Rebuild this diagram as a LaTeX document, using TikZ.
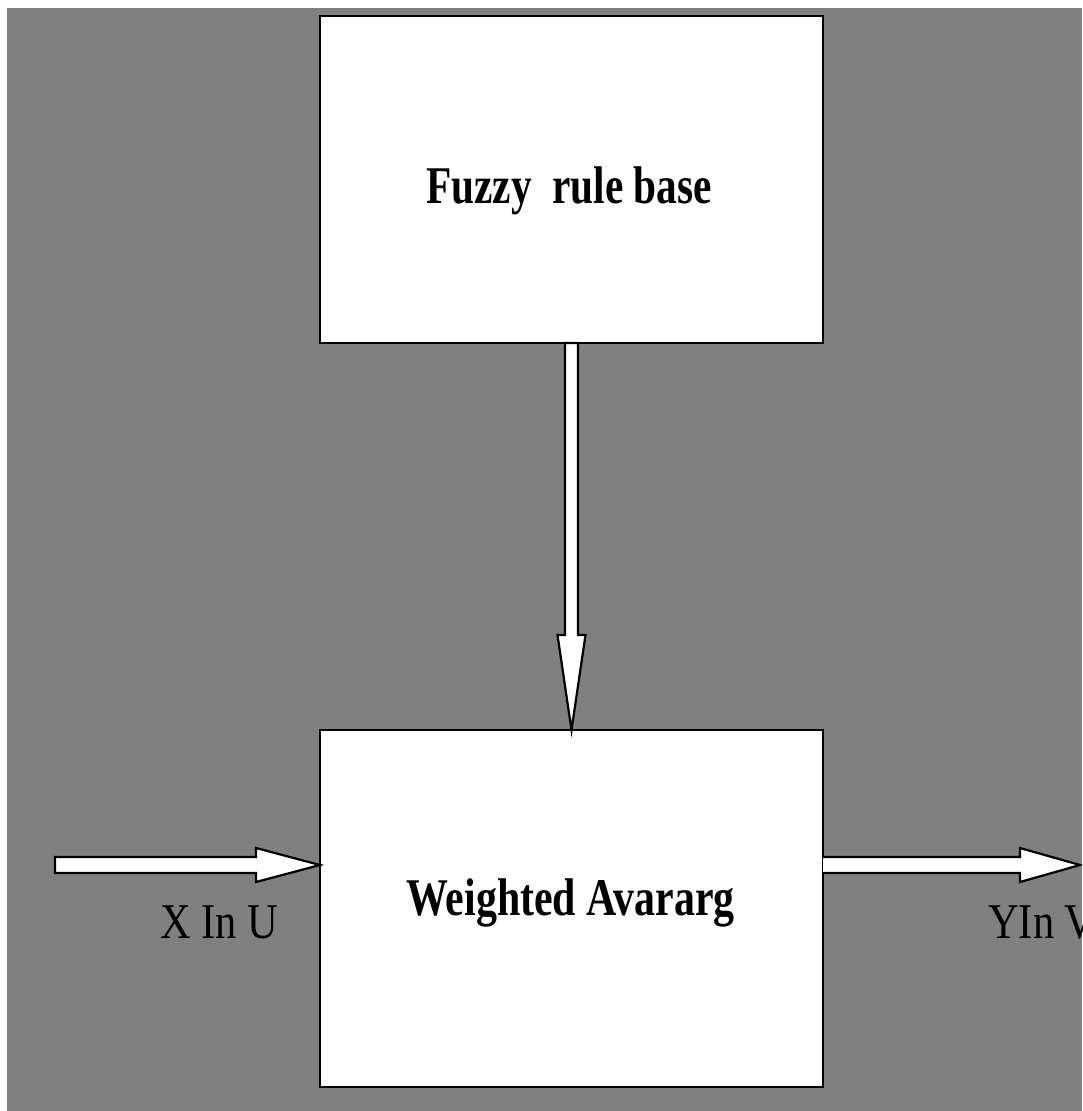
\documentclass[tikz,border=0pt]{standalone}
\usepackage{fontspec}
\setmainfont{Liberation Serif}
\usetikzlibrary{calc}
\definecolor{bggray}{RGB}{128,128,128}
\tikzset{
  box/.style={draw=black, line width=2pt, fill=white, inner sep=0pt, outer sep=0pt,
              minimum width=503pt, minimum height=327pt},
  boxtext/.style={anchor=base, inner sep=0pt, font=\fontsize{53}{60}\selectfont\bfseries},
  portlabel/.style={anchor=base west, inner sep=0pt, font=\fontsize{50}{60}\selectfont},
  blockarrow/.style={draw=black, line width=2.2pt, fill=white, line join=miter}
}
\begin{document}
\begin{tikzpicture}[x=1pt,y=-1pt]
\useasboundingbox (0,0) rectangle (1082,1111);
\clip (0,0) rectangle (1082,1111);
\fill[white] (0,0) rectangle (1082,1111);
\fill[bggray] (7,8) rectangle (1082,1111);

\node[box] (rb) at (571.5,179.5) {};
\node[box, minimum height=357pt] (wa) at (571.5,908.5) {};

\node[boxtext] (rbt) at (569,203) {\scalebox{0.78}[1]{Fuzzy\ \ rule base}};
\node[boxtext] (wat) at (570.5,915) {\scalebox{0.79}[1]{Weighted Avararg}};

\coordinate (xin) at (55,865);
\coordinate (yout) at (1080,865);

% vertical block arrow: rule base -> weighted average
\draw[blockarrow]
  ($(rb.south)+(-6.5,0)$) -- ($(wa.north)+(-6.5,-95)$) -- ($(wa.north)+(-14,-95)$)
  -- (wa.north) -- ($(wa.north)+(14,-95)$) -- ($(wa.north)+(6.5,-95)$)
  -- ($(rb.south)+(6.5,0)$) -- cycle;

% input block arrow
\coordinate (win) at (wa.west |- xin);
\draw[blockarrow]
  ($(xin)+(0,-8)$) -- ($(win)+(-64,-8)$) -- ($(win)+(-64,-17)$) -- (win)
  -- ($(win)+(-64,17)$) -- ($(win)+(-64,8)$) -- ($(xin)+(0,8)$) -- cycle;

% output block arrow
\coordinate (wout) at (wa.east |- yout);
\draw[blockarrow]
  ($(wout)+(0,-8)$) -- ($(yout)+(-60,-8)$) -- ($(yout)+(-60,-17)$) -- (yout)
  -- ($(yout)+(-60,17)$) -- ($(yout)+(-60,8)$) -- ($(wout)+(0,8)$);

\node[portlabel] (xl) at (160,938) {\scalebox{0.85}[1]{X In U}};
\node[portlabel] (yl) at (988,938) {\scalebox{0.85}[1]{YIn V}};
\end{tikzpicture}
\end{document}
